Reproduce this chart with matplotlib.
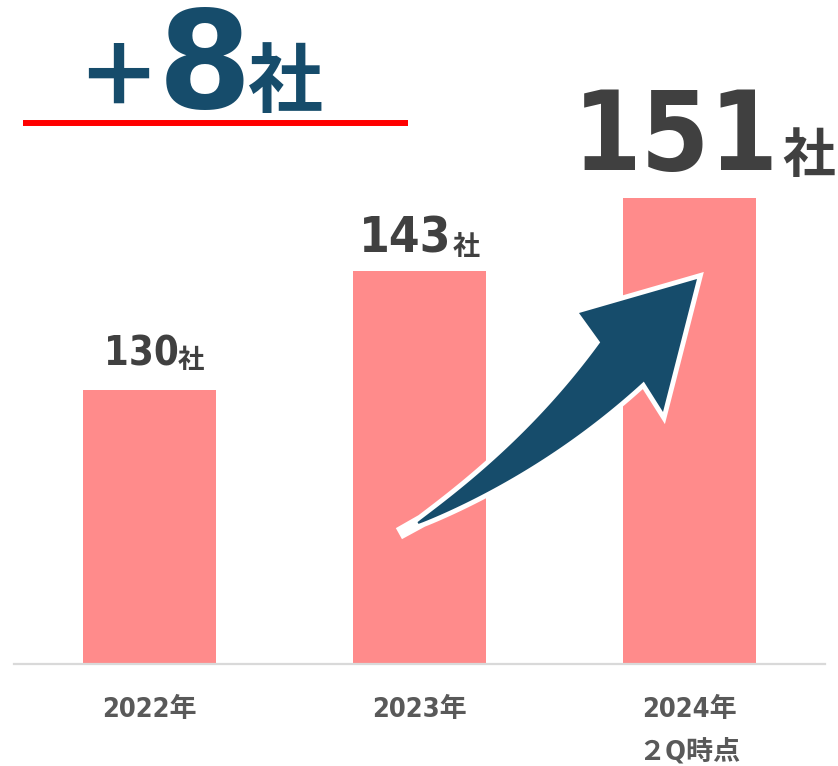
import numpy as np
import matplotlib
matplotlib.use('Agg')
import matplotlib.pyplot as plt
from matplotlib.patches import Polygon
from matplotlib.lines import Line2D
from matplotlib.transforms import Affine2D

# ---- data ----
categories = ['2022年', '2023年', '2024年\n２Q時点']
values = [130, 143, 151]
value_labels = ['130', '143', '151']
unit = '社'
increase_sign = '＋'
increase_value = '8'

# ---- styles ----
W, H = 838, 766
NAVY = '#164C6B'
BAR = '#FF8B8B'
NUM = '#404040'
TICK = '#595959'
LATIN = ['DejaVu Sans', 'Noto Sans CJK JP']
CJK = ['Noto Sans CJK JP', 'DejaVu Sans']

fig = plt.figure(figsize=(W / 100, H / 100), dpi=100)
ax = fig.add_axes([14 / W, 102 / H, 811 / W, 634 / H])
x = np.arange(len(values))
ax.bar(x, values, width=0.493, color=BAR, zorder=2)
ax.set_xlim(-0.5, 2.5)
ax.set_ylim(100, 100 + 634 / 9.143)
for s in ['left', 'right', 'top']:
    ax.spines[s].set_visible(False)
ax.spines['bottom'].set_color('#D9D9D9')
ax.spines['bottom'].set_linewidth(1.6)
ax.set_yticks([])
ax.set_xticks(x, categories)
ax.tick_params(axis='x', length=0, pad=24, labelsize=19.5, labelcolor=TICK)
for lab in ax.get_xticklabels():
    lab.set_fontweight('bold')
    lab.set_family(LATIN)
    lab.set_fontstretch('condensed')
    lab.set_linespacing(1.78)

# value labels (number + unit)
num_sizes = [28.6, 35.5, 79]
unit_sizes = [19, 19.5, 38]
num_dx = [-7.5, -14, -14]
unit_dx = [41.5, 47, 118.5]
num_dy = [24, 18, 28]
for i, v in enumerate(values):
    ax.annotate(value_labels[i], xy=(x[i], v), xytext=(num_dx[i], num_dy[i]),
                textcoords='offset pixels', ha='center', va='baseline',
                fontsize=num_sizes[i], fontweight='bold', family=LATIN,
                fontstretch='condensed', color=NUM, annotation_clip=False)
    ax.annotate(unit, xy=(x[i], v), xytext=(unit_dx[i], num_dy[i] - 2),
                textcoords='offset pixels', ha='center', va='baseline',
                fontsize=unit_sizes[i], fontweight='bold', family=CJK,
                color=NUM, annotation_clip=False)

# ---- "+8社" headline ----
fig.text(118 / W, 1 - 106 / H, increase_sign, fontsize=62, ha='center', va='baseline',
         family=CJK, fontweight='black', color=NAVY)
fig.text(205 / W, 1 - 108 / H, increase_value, fontsize=97, ha='center', va='baseline',
         family=LATIN, fontweight='bold', color=NAVY)
fig.text(285 / W, 1 - 106 / H, unit, fontsize=54, ha='center', va='baseline',
         family=CJK, fontweight='bold', color=NAVY)
fig.add_artist(Line2D([23 / W, 408 / W], [1 - 123 / H] * 2, color='#FF0000', lw=4.3,
                      transform=fig.transFigure, solid_capstyle='butt'))

# ---- curved arrow (decoration, figure pixel space, y up) ----
P0 = np.array([418.0, 243.0])
P1 = np.array([536.5, 309.0])
P2 = np.array([622.0, 404.0])
tip = np.array([697.0, 487.0])
c_left = np.array([579.0, 453.0])
c_right = np.array([663.0, 354.0])
t = np.linspace(0, 1, 60)[:, None]
B = (1 - t) ** 2 * P0 + 2 * (1 - t) * t * P1 + t ** 2 * P2
D = 2 * (1 - t) * (P1 - P0) + 2 * t * (P2 - P1)
D = D / np.linalg.norm(D, axis=1, keepdims=True)
N = np.column_stack([-D[:, 1], D[:, 0]])
wid = (2 + (58.7 - 2) * t[:, 0] ** 0.9)[:, None]
left = B + N * wid / 2
right = B - N * wid / 2
pts = np.vstack([left, c_left, tip, c_right, right[::-1]])
# outline shape: tail extended backwards so the white rim shows past the point
tail_ext = P0 - D[0] * 17
pts_w = np.vstack([tail_ext + N[0] * 1.5, left[1:], c_left, tip, c_right,
                   right[::-1][:-1], tail_ext - N[0] * 1.5])
ptrans = Affine2D().scale(1 / W, 1 / H) + fig.transFigure
fig.add_artist(Polygon(pts_w, closed=True, facecolor='white', edgecolor='white', lw=7,
                       joinstyle='miter', transform=ptrans, zorder=5))
fig.add_artist(Polygon(pts, closed=True, facecolor=NAVY, edgecolor='none',
                       transform=ptrans, zorder=6))

fig.savefig('out.png', dpi=100)
